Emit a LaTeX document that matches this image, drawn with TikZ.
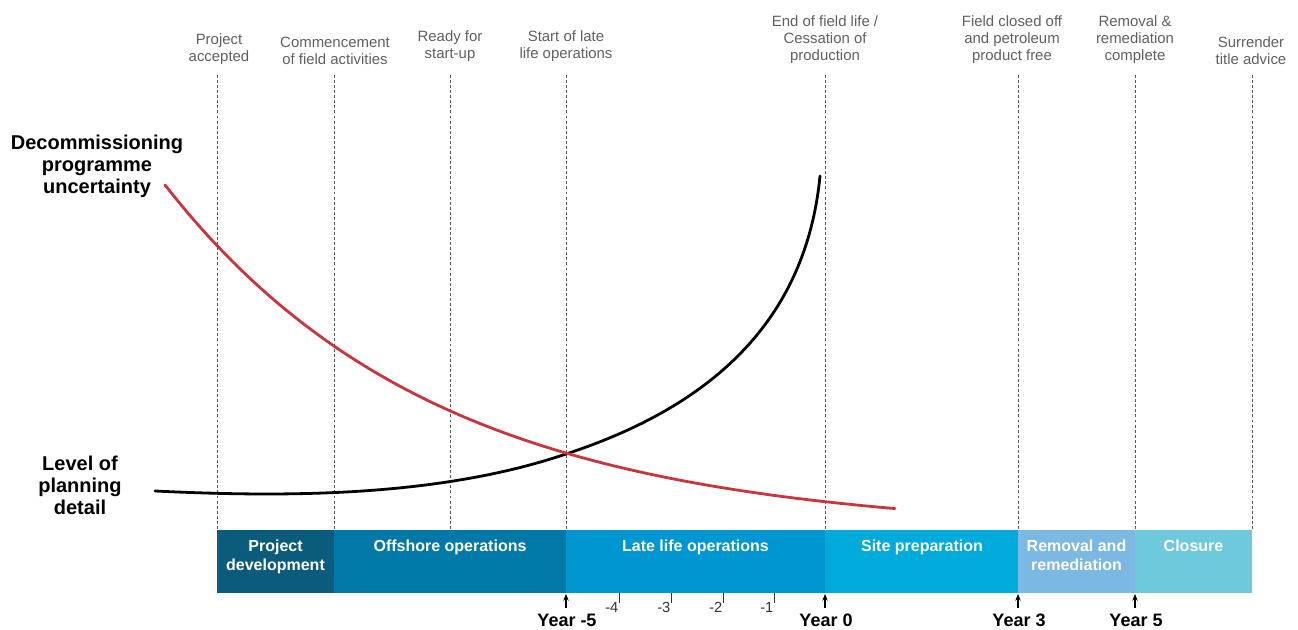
\documentclass[tikz,border=0pt]{standalone}
\usepackage{fontspec}
\setmainfont{Liberation Sans}
\usetikzlibrary{arrows.meta}
\definecolor{milegray}{HTML}{606060}
\definecolor{curvered}{HTML}{C9353C}
\definecolor{phaseA}{HTML}{0B5B7C}
\definecolor{phaseB}{HTML}{0079A9}
\definecolor{phaseC}{HTML}{0096D1}
\definecolor{phaseD}{HTML}{00ABDC}
\definecolor{phaseE}{HTML}{7BB8E2}
\definecolor{phaseF}{HTML}{6FC9DC}
\tikzset{
  milestone/.style={anchor=south, align=center, text=milegray,
    font=\fontsize{11.2}{12.8}\selectfont},
  gridline/.style={draw=black!65, line width=0.7pt, dash pattern=on 2.2pt off 1.6pt},
  axistitle/.style={align=center, font=\fontsize{15}{16.5}\selectfont\bfseries},
  phasetext/.style={anchor=north, align=center, text=white,
    font=\fontsize{12}{14.3}\selectfont\bfseries},
  yearlabel/.style={font=\fontsize{13.5}{15}\selectfont\bfseries},
  ticklabel/.style={text=black!80, font=\fontsize{11}{12}\selectfont},
  yeararrow/.style={-{Stealth[length=5pt,width=4pt]}, line width=0.8pt},
  curve/.style={line width=2.1pt, line cap=round}
}
\begin{document}
\begin{tikzpicture}[x=0.75pt, y=-0.75pt]
\useasboundingbox (0,0) rectangle (1298,630);

% milestone coordinates along the time axis
\foreach \n/\x in {m1/217, m2/334, m3/450, m4/566, m5/825, m6/1018, m7/1135, m8/1252}{
  \coordinate (\n top) at (\x,75);
  \coordinate (\n bar) at (\x,530);
  \draw[gridline] (\n top) -- (\n bar);
}

% milestone captions
\node[milestone] (t1) at (219,69) {Project\\accepted};
\node[milestone] (t2) at (335,69) {Commencement\\of field activities};
\node[milestone] (t3) at (450,66) {Ready for\\start-up};
\node[milestone] (t4) at (566,66) {Start of late\\life operations};
\node[milestone] (t5) at (825,68) {End of field life /\\Cessation of\\production};
\node[milestone] (t6) at (1012,68) {Field closed off\\and petroleum\\product free};
\node[milestone] (t7) at (1135,68) {Removal \&\\remediation\\complete};
\node[milestone] (t8) at (1251,69) {Surrender\\title advice};

% axis titles
\node[axistitle] (unc) at (97,166) {Decommissioning\\programme\\uncertainty};
\node[axistitle] (lvl) at (80,485) {Level of\\planning\\detail};

% level of planning detail
\coordinate (lp0) at (155,491);
\coordinate (lp1) at (566,454);
\coordinate (lp2) at (820,176);
\draw[curve, black] (lp0) .. controls (280,497) and (436,498) .. (lp1)
  .. controls (700,410) and (805,330) .. (lp2);

% programme uncertainty
\draw[curve, curvered] plot[domain=165:895, samples=120]
  (\x, {532-347*exp(-0.0037*(\x-165))});

% phase bar
\fill[phaseA] (217,530) rectangle (334,593);
\fill[phaseB] (334,530) rectangle (566,593);
\fill[phaseC] (566,530) rectangle (825,593);
\fill[phaseD] (825,530) rectangle (1018,593);
\fill[phaseE] (1018,530) rectangle (1135,593);
\fill[phaseF] (1135,530) rectangle (1252,593);

\node[phasetext] (p1) at (275.5,535) {Project\\development};
\node[phasetext] (p2) at (450,535) {Offshore operations};
\node[phasetext] (p3) at (695.5,535) {Late life operations};
\node[phasetext] (p4) at (922,535) {Site preparation};
\node[phasetext] (p5) at (1076.5,535) {Removal and\\remediation};
\node[phasetext] (p6) at (1193.5,535) {Closure};

% yearly ticks in late life
\foreach \k/\x in {4/619, 3/671, 2/723, 1/774}{
  \coordinate (tk\k) at (\x,593);
  \coordinate (tb\k) at (\x,603);
  \draw[black!80, line width=0.6pt] (tk\k) -- (tb\k);
  \node[ticklabel, anchor=east] (tl\k) at (\x+4,607) {-\k};
}

% year markers
\foreach \n/\x/\lab in {y1/566/Year -5, y2/825/Year 0, y3/1018/Year 3, y4/1135/Year 5}{
  \node[yearlabel] (\n) at (\x+1,620) {\lab};
  \coordinate (\n tip) at (\x,594);
  \draw[yeararrow] (\x,608) -- (\n tip);
}
\end{tikzpicture}
\end{document}
